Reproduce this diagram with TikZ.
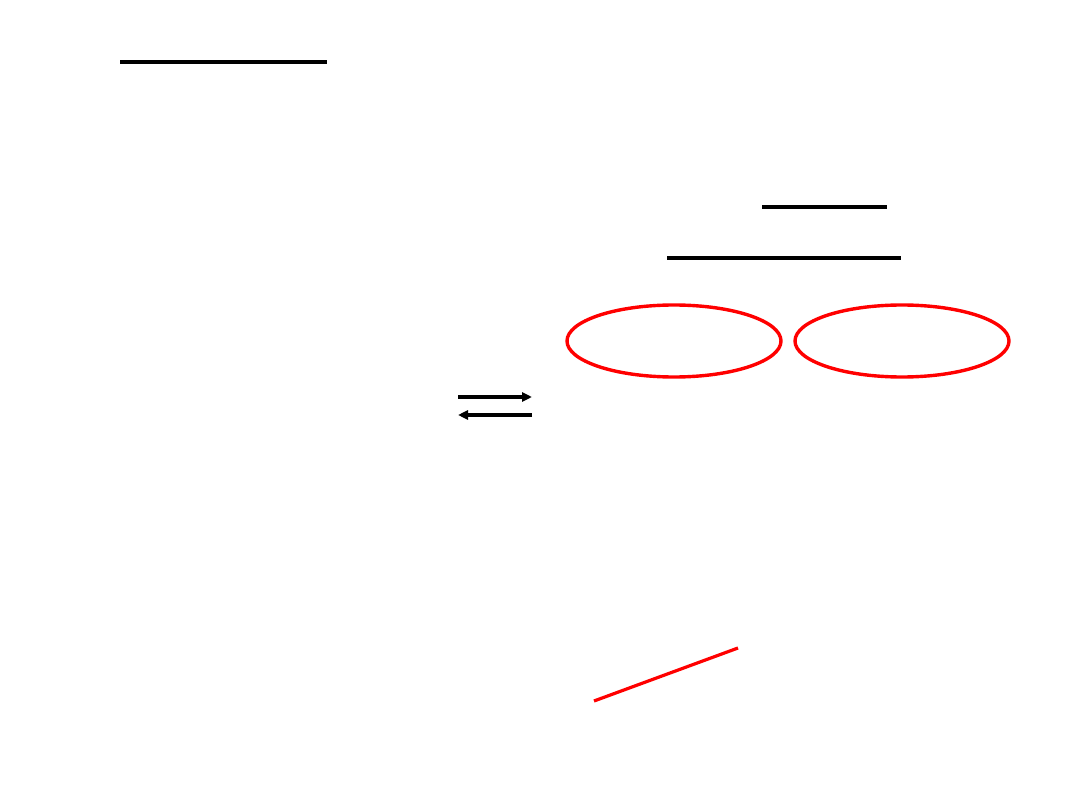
\documentclass[tikz,border=0pt]{standalone}
\usetikzlibrary{shapes.geometric,arrows.meta}
\begin{document}
\begin{tikzpicture}[x=1pt,y=-1pt,
  rule/.style={line width=3.6pt,black},
  oval/.style={draw=red,line width=3.4pt,ellipse,minimum width=214pt,minimum height=72pt,inner sep=0pt},
  eqarrow/.style={line width=3.2pt,black,-{Triangle[length=10pt,width=9pt]}},
  redline/.style={line width=3.2pt,red}]
\useasboundingbox[fill=white] (0,0) rectangle (1080,810);
\coordinate (t1a) at (120,62); \coordinate (t1b) at (327,62);
\draw[rule] (t1a) -- (t1b);
\coordinate (t2a) at (762,207); \coordinate (t2b) at (887,207);
\draw[rule] (t2a) -- (t2b);
\coordinate (t3a) at (667,258); \coordinate (t3b) at (901,258);
\draw[rule] (t3a) -- (t3b);
\node[oval] (e1) at (674,341) {};
\node[oval] (e2) at (902,341) {};
\coordinate (a1) at (458,397); \coordinate (a2) at (532,397);
\draw[eqarrow] (a1) -- (a2);
\coordinate (b1) at (532,415); \coordinate (b2) at (458,415);
\draw[eqarrow] (b1) -- (b2);
\coordinate (r1) at (594,701); \coordinate (r2) at (738,648);
\draw[redline] (r1) -- (r2);
\end{tikzpicture}
\end{document}
